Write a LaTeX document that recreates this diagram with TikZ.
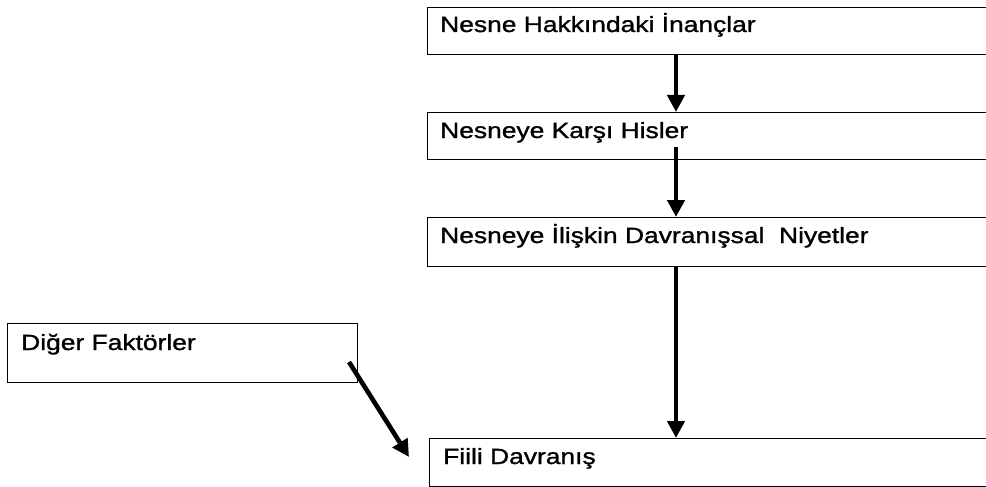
\documentclass[tikz,border=0pt]{standalone}
\usepackage{fontspec}
\setmainfont[FakeStretch=1.2,FakeBold=1.2]{Liberation Sans}
\usetikzlibrary{arrows.meta}

\begin{document}
\begin{tikzpicture}[x=1pt,y=-1pt,
  box/.style={draw=black,line width=1.4pt,rectangle,inner sep=0pt,anchor=north west},
  lbl/.style={anchor=base west,inner sep=0pt,font=\fontsize{22}{26}\selectfont},
  arr/.style={line width=4.6pt,-{Triangle[width=17pt,length=17pt]}},
]
\useasboundingbox[fill=white] (0,0) rectangle (986,487);

% chain of boxes on the right (open past the right margin)
\node[box,minimum width=580pt,minimum height=47pt] (b1) at (427,7) {};
\node[box,minimum width=580pt,minimum height=47pt] (b2) at (427,112) {};
\node[box,minimum width=580pt,minimum height=49pt] (b3) at (427,217) {};
\node[box,minimum width=580pt,minimum height=48pt] (b4) at (429,438) {};
% side box
\node[box,minimum width=350pt,minimum height=59pt] (b5) at (7,323) {};

\node[lbl] (t1) at (440,32) {Nesne Hakkındaki İnançlar};
\node[lbl] (t2) at (440,138) {Nesneye Karşı Hisler};
\node[lbl] (t3) at (440,243) {Nesneye İlişkin Davranışsal\ \ Niyetler};
\node[lbl] (t4) at (443,464) {Fiili Davranış};
\node[lbl] (t5) at (21,350) {Diğer Faktörler};

% arrow column and free arrow ends
\coordinate (ax) at (676,0);
\coordinate (s2) at (676,147);
\coordinate (d1) at (349,362);
\coordinate (d2) at (409,457);

\draw[arr] (b1.south -| ax) -- (b2.north -| ax);
\draw[arr] (s2) -- (b3.north -| s2);
\draw[arr] (b3.south -| ax) -- (b4.north -| ax);
\draw[arr] (d1) -- (d2);
\end{tikzpicture}
\end{document}
